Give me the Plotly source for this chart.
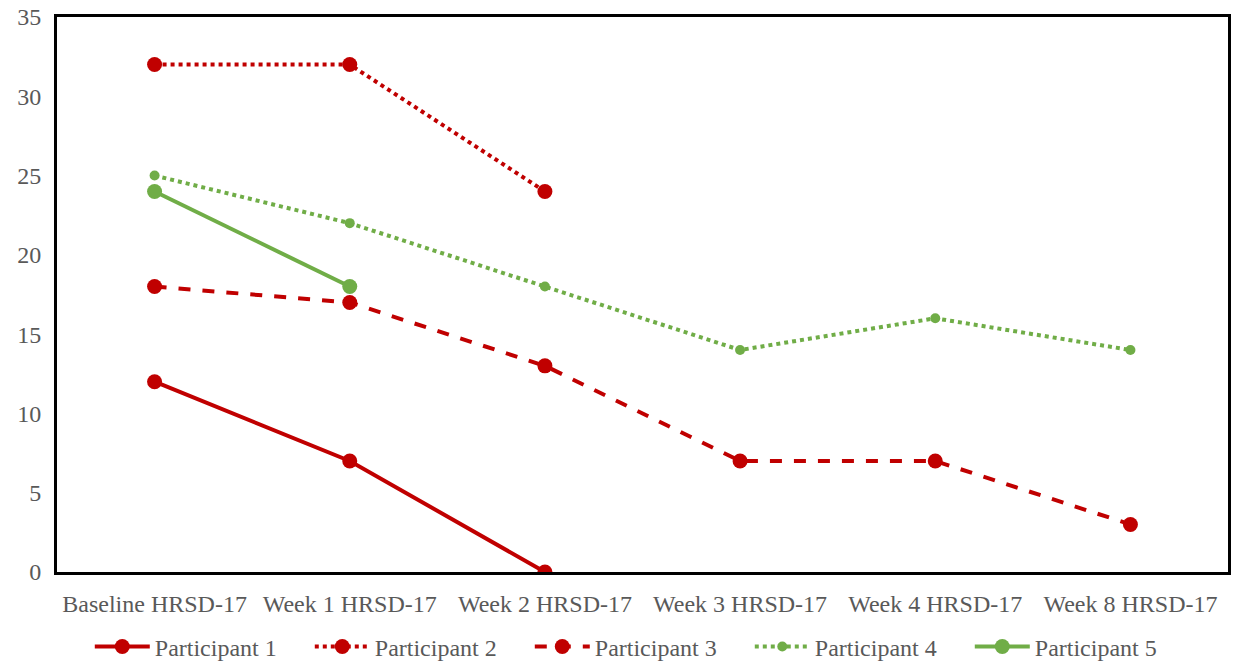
import plotly.graph_objects as go

categories = ["Baseline HRSD-17", "Week 1 HRSD-17", "Week 2 HRSD-17",
              "Week 3 HRSD-17", "Week 4 HRSD-17", "Week 8 HRSD-17"]
p1 = [12, 7, 0, None, None, None]
p2 = [32, 32, 24, None, None, None]
p3 = [18, 17, 13, 7, 7, 3]
p4 = [25, 22, 18, 14, 16, 14]
p5 = [24, 18, None, None, None, None]
y_ticks = [0, 5, 10, 15, 20, 25, 30, 35]

RED = "#C00000"
GREEN = "#70AD47"
FONT = "Liberation Serif"
GRAY = "#595959"

series = [
    ("Participant 1", p1, RED, "solid", 15),
    ("Participant 2", p2, RED, "dot", 15),
    ("Participant 3", p3, RED, "dash", 15),
    ("Participant 4", p4, GREEN, "dot", 10),
    ("Participant 5", p5, GREEN, "solid", 15),
]

fig = go.Figure()
for name, vals, color, dash, msize in series:
    fig.add_trace(go.Scatter(
        x=categories, y=vals, name=name, mode="lines+markers",
        line=dict(color=color, width=4, dash=dash),
        marker=dict(color=color, size=msize),
        connectgaps=False,
    ))

fig.update_layout(
    width=1233, height=666,
    margin=dict(l=57, r=5, t=17, b=94, autoexpand=False),
    paper_bgcolor="white", plot_bgcolor="white",
    font=dict(family=FONT, size=24, color=GRAY),
    showlegend=True,
    legend=dict(orientation="h", x=0.028, xanchor="left",
                y=-0.135, yanchor="middle",
                itemwidth=55,
                entrywidth=150, entrywidthmode="pixels",
                font=dict(family=FONT, size=24, color=GRAY)),
)
fig.update_xaxes(
    type="category", range=[-0.5, 5.5], showgrid=False, automargin=False,
    showline=True, linecolor="black", linewidth=3, mirror=True,
    ticks="", ticklabelstandoff=8,
    tickfont=dict(family=FONT, size=24, color=GRAY),
)
fig.update_yaxes(
    range=[0, 35], tickvals=y_ticks, showgrid=False, zeroline=False, automargin=False,
    showline=True, linecolor="black", linewidth=3, mirror=True,
    ticks="", ticklabelstandoff=8,
    tickfont=dict(family=FONT, size=24, color=GRAY),
)

fig.write_html("out.html", config={"displayModeBar": False},
               post_script="document.body.style.margin='0';document.body.style.overflow='hidden';")
